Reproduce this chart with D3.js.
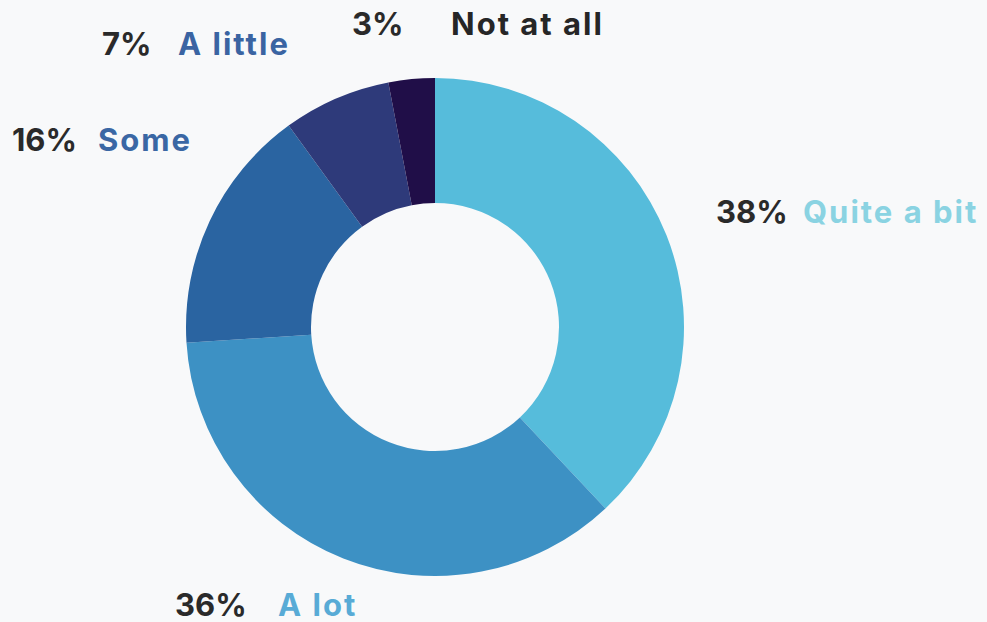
<!DOCTYPE html>
<html>
<head>
<meta charset="utf-8">
<script src="https://cdn.jsdelivr.net/npm/d3@7/dist/d3.min.js"></script>
<style>
  html, body { margin: 0; padding: 0; background: #f8f9fa; }
  svg { display: block; }
  text { font-family: Inter, "Noto Sans", sans-serif; font-weight: 700; }
</style>
</head>
<body>
<svg id="chart" width="987" height="622"></svg>
<script>
// Survey responses, in clockwise order starting at 12 o'clock
const categories = ["Quite a bit", "A lot", "Some", "A little", "Not at all"];
const values = [38, 36, 16, 7, 3];

// Slice and label colours per category
const sliceColors = ["#56bcdb", "#3d91c4", "#2a64a1", "#2e3a7a", "#200e48"];
const labelColors = ["#8ad3e2", "#58abd6", "#3a67a4", "#3a64a2", "#262626"];

// Label placement: [percent x, name x, baseline y]
const labelLayout = [
  [716, 803, 223],
  [175, 278, 616],
  [12, 98, 151],
  [102, 178, 55],
  [352, 451, 35]
];

const svg = d3.select("#chart");
const cx = 435, cy = 327, outerR = 249, innerR = 124;

const data = categories.map((c, i) => ({ name: c, value: values[i], i }));

const pie = d3.pie().value(d => d.value).sort(null);
const arc = d3.arc().innerRadius(innerR).outerRadius(outerR);

const g = svg.append("g").attr("transform", `translate(${cx},${cy})`);
g.selectAll("path")
  .data(pie(data))
  .join("path")
  .attr("d", arc)
  .attr("fill", d => sliceColors[d.data.i]);

const labels = svg.append("g");
data.forEach(d => {
  const [px, nx, y] = labelLayout[d.i];
  labels.append("text")
    .attr("x", px).attr("y", y)
    .attr("font-size", 31)
    .attr("fill", "#2a2a2a")
    .text(d.value + "%");
  labels.append("text")
    .attr("x", nx).attr("y", y)
    .attr("font-size", 31)
    .attr("font-weight", 800)
    .attr("letter-spacing", 2)
    .attr("fill", labelColors[d.i])
    .text(d.name);
});
</script>
</body>
</html>
